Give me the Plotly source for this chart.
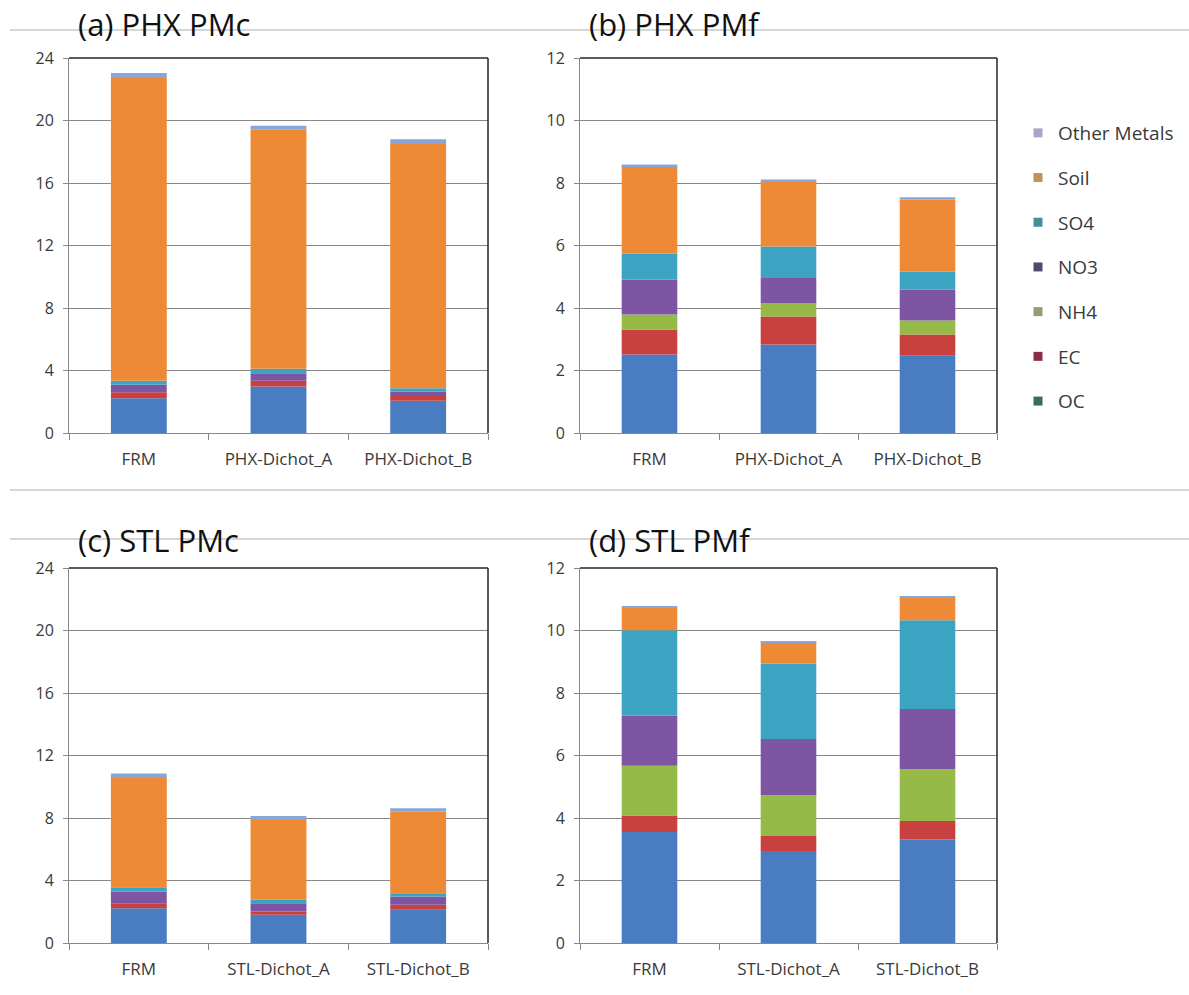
import plotly.graph_objects as go
from plotly.subplots import make_subplots

W, H = 1189, 995

# Component stack order (bottom to top)
components = ["OC", "EC", "NH4", "NO3", "SO4", "Soil", "Other Metals"]
bar_colors = ["#4A7CC2", "#C8413E", "#96BA48", "#7E55A3", "#3CA4C2", "#EE8A35", "#8AA6D8"]
legend_colors = ["#3E6862", "#8A2E46", "#9A9C70", "#4E4A70", "#4A8C9C", "#C4905E", "#A8A4C8"]

phx_sites = ["FRM", "PHX-Dichot_A", "PHX-Dichot_B"]
stl_sites = ["FRM", "STL-Dichot_A", "STL-Dichot_B"]

# Mass per component, ordered as `components`
phx_pmc_frm = [2.22, 0.39, -0.12, 0.47, 0.27, 19.37, 0.32]
phx_pmc_a = [2.97, 0.38, 0.00, 0.48, 0.28, 15.30, 0.26]
phx_pmc_b = [2.06, 0.31, 0.00, 0.28, 0.21, 15.64, 0.30]

phx_pmf_frm = [2.51, 0.80, 0.48, 1.12, 0.83, 2.79, 0.06]
phx_pmf_a = [2.83, 0.90, 0.43, 0.80, 1.01, 2.08, 0.06]
phx_pmf_b = [2.47, 0.68, 0.45, 0.99, 0.58, 2.30, 0.07]

stl_pmc_frm = [2.23, 0.32, -0.10, 0.74, 0.28, 7.06, 0.22]
stl_pmc_a = [1.81, 0.21, 0.00, 0.53, 0.21, 5.11, 0.25]
stl_pmc_b = [2.13, 0.31, 0.00, 0.53, 0.22, 5.21, 0.22]

stl_pmf_frm = [3.55, 0.53, 1.59, 1.61, 2.73, 0.72, 0.03]
stl_pmf_a = [2.94, 0.48, 1.31, 1.80, 2.41, 0.68, 0.04]
stl_pmf_b = [3.31, 0.59, 1.66, 1.93, 2.84, 0.73, 0.04]

panels = [
    dict(title="(a) PHX PMc", sites=phx_sites, data=[phx_pmc_frm, phx_pmc_a, phx_pmc_b],
         row=1, col=1, ymax=24, dtick=4),
    dict(title="(b) PHX PMf", sites=phx_sites, data=[phx_pmf_frm, phx_pmf_a, phx_pmf_b],
         row=1, col=2, ymax=12, dtick=2),
    dict(title="(c) STL PMc", sites=stl_sites, data=[stl_pmc_frm, stl_pmc_a, stl_pmc_b],
         row=2, col=1, ymax=24, dtick=4),
    dict(title="(d) STL PMf", sites=stl_sites, data=[stl_pmf_frm, stl_pmf_a, stl_pmf_b],
         row=2, col=2, ymax=12, dtick=2),
]

# Pixel geometry of each plot area: (left, right, top, bottom)
boxes = {
    (1, 1): (69, 488, 58, 433),
    (1, 2): (580, 997, 58, 433),
    (2, 1): (69, 488, 568, 943),
    (2, 2): (580, 997, 568, 943),
}
title_pos = {(1, 1): (76, 24), (1, 2): (587, 24), (2, 1): (76, 540), (2, 2): (587, 540)}

FONT = "Open Sans"
TXT = "#3A3A3A"
GRID = "#878787"

fig = make_subplots(rows=2, cols=2)

for p in panels:
    r, c = p["row"], p["col"]
    for i, comp in enumerate(components):
        fig.add_trace(
            go.Bar(
                x=p["sites"],
                y=[site_vals[i] for site_vals in p["data"]],
                name=comp,
                marker=dict(color=bar_colors[i], line=dict(width=0)),
                showlegend=False,
                hovertemplate="%{x}<br>" + comp + ": %{y:.2f}<extra></extra>",
            ),
            row=r, col=c,
        )

# Legend entries drawn as small squares
for i, comp in enumerate(components):
    fig.add_trace(
        go.Scatter(
            x=[None], y=[None], mode="markers", name=comp,
            marker=dict(symbol="square", size=9, color=legend_colors[i]),
            legendgroup=comp, legendrank=len(components) - i, showlegend=True,
        ),
        row=1, col=2,
    )

annotations = []
shapes = []
for p in panels:
    r, c = p["row"], p["col"]
    l, rr, t, b = boxes[(r, c)]
    idx = (r - 1) * 2 + c
    xa = "xaxis" if idx == 1 else f"xaxis{idx}"
    ya = "yaxis" if idx == 1 else f"yaxis{idx}"
    fig.layout[xa].update(
        domain=[l / W, rr / W], type="category",
        showline=True, linecolor=GRID, linewidth=1,
        ticks="outside", tickson="boundaries", ticklen=6, tickcolor=GRID,
        tickfont=dict(family=FONT, size=17, color=TXT),
        ticklabelstandoff=11,
        showgrid=False, automargin=False,
    )
    fig.layout[ya].update(
        domain=[1 - b / H, 1 - t / H], range=[0, p["ymax"]], dtick=p["dtick"],
        showline=True, linecolor=GRID, linewidth=1,
        ticks="outside", ticklen=5, tickcolor=GRID,
        tickfont=dict(family=FONT, size=16, color=TXT),
        showgrid=True, gridcolor=GRID, gridwidth=1, zeroline=False,
        ticklabelstandoff=6, automargin=False,
    )
    xref = "x" if idx == 1 else f"x{idx}"
    yref = "y" if idx == 1 else f"y{idx}"
    # dark frame on the top and right sides of the plot area
    shapes.append(dict(type="line", xref=f"{xref} domain", yref=f"{yref} domain",
                       x0=0, x1=1, y0=1, y1=1, line=dict(color="#262626", width=1.5)))
    shapes.append(dict(type="line", xref=f"{xref} domain", yref=f"{yref} domain",
                       x0=1, x1=1, y0=0, y1=1, line=dict(color="#262626", width=1.5)))
    tx, ty = title_pos[(r, c)]
    annotations.append(dict(
        text=p["title"], x=tx / W, y=1 - ty / H, xref="paper", yref="paper",
        xanchor="left", yanchor="middle", showarrow=False,
        font=dict(family=FONT, size=31, color="#111111"),
    ))

# light separators between the chart rows
for yy in (30, 490, 539):
    shapes.append(dict(type="line", xref="paper", yref="paper",
                       x0=10 / W, x1=1, y0=1 - yy / H, y1=1 - yy / H,
                       line=dict(color="#C8C8C8", width=1.5), layer="below"))

fig.update_layout(
    width=W, height=H,
    margin=dict(l=0, r=0, t=0, b=0, pad=0, autoexpand=False),
    paper_bgcolor="white", plot_bgcolor="white",
    barmode="relative", bargap=0.6,
    annotations=annotations, shapes=shapes,
    legend=dict(
        x=1018 / W, y=1 - 114 / H, xanchor="left", yanchor="top",
        traceorder="grouped", tracegroupgap=17,
        font=dict(family=FONT, size=19, color=TXT),
        bgcolor="rgba(0,0,0,0)",
    ),
    font=dict(family=FONT, color=TXT),
)

fig.write_html("out.html")
